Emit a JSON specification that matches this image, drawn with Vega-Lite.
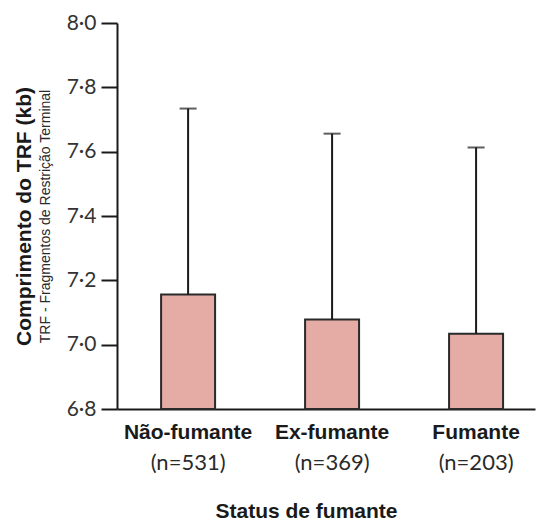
{
  "$schema": "https://vega.github.io/schema/vega-lite/v6.json",
  "autosize": "none",
  "padding": {"left": 117, "top": 23, "right": 1, "bottom": 113},
  "width": 418,
  "height": 386,
  "background": "white",
  "config": {"view": {"stroke": null}, "axis": {"grid": false}},
  "data": {"values": [
    {"grupo": "Não-fumante", "n": 531, "media": 7.156, "superior": 7.734},
    {"grupo": "Ex-fumante", "n": 369, "media": 7.078, "superior": 7.656},
    {"grupo": "Fumante", "n": 203, "media": 7.034, "superior": 7.613}
  ]},
  "resolve": {"axis": {"x": "independent", "y": "independent"}},
  "layer": [
    {
      "mark": {"type": "bar", "fill": "#e5aca5", "stroke": "#2a2a2a", "strokeWidth": 2},
      "encoding": {
        "x": {"field": "grupo", "type": "nominal", "sort": null,
          "scale": {"paddingInner": 0.625, "paddingOuter": 0.264, "align": 0.58},
          "axis": {"title": null, "labelAngle": 0, "ticks": false, "domainColor": "#1a1a1a", "domainWidth": 2,
            "labelFont": "Liberation Sans", "labelFontWeight": "bold", "labelFontSize": 21, "labelColor": "#1a1a1a", "labelPadding": 12}},
        "y": {"field": "media", "type": "quantitative",
          "scale": {"domain": [6.8, 8.0], "nice": false, "zero": false},
          "axis": {"values": [6.8, 7.0, 7.2, 7.4, 7.6, 7.8, 8.0],
            "labelExpr": "replace(format(datum.value, '.1f'), '.', '·')",
            "labelFont": "Lato", "labelFontSize": 21, "labelColor": "#333333", "labelPadding": 5,
            "tickSize": 16, "tickWidth": 2, "tickColor": "#1a1a1a", "domainColor": "#1a1a1a", "domainWidth": 2,
            "title": "TRF - Fragmentos de Restrição Terminal", "titleFont": "Liberation Sans", "titleFontWeight": "normal",
            "titleFontSize": 14, "titleColor": "#2a2a2a", "titlePadding": 14}},
        "y2": {"datum": 6.8}
      }
    },
    {
      "mark": {"type": "rule", "color": "#1a1a1a", "strokeWidth": 2},
      "encoding": {
        "x": {"field": "grupo", "type": "nominal", "sort": null,
          "axis": {"orient": "bottom", "offset": 43, "title": "Status de fumante", "labelAngle": 0, "ticks": false, "domain": false,
            "labelExpr": "{'Não-fumante': '(n=531)', 'Ex-fumante': '(n=369)', 'Fumante': '(n=203)'}[datum.value]",
            "labelFont": "Lato", "labelFontSize": 22, "labelColor": "#2a2a2a", "labelPadding": 0,
            "titleFont": "Liberation Sans", "titleFontWeight": "bold", "titleFontSize": 21, "titleColor": "#1a1a1a",
            "titlePadding": 27, "titleX": 189}},
        "y": {"field": "media", "type": "quantitative",
          "axis": {"orient": "left", "offset": 81, "labels": false, "ticks": false, "domain": false,
            "title": "Comprimento do TRF (kb)", "titleFont": "Liberation Sans", "titleFontWeight": "bold",
            "titleFontSize": 21, "titleColor": "#1a1a1a", "titlePadding": 2}},
        "y2": {"field": "superior"}
      }
    },
    {
      "mark": {"type": "tick", "color": "#1a1a1a", "size": 17, "thickness": 2},
      "encoding": {
        "x": {"field": "grupo", "type": "nominal", "sort": null, "axis": null},
        "y": {"field": "superior", "type": "quantitative", "axis": null}
      }
    }
  ]
}
